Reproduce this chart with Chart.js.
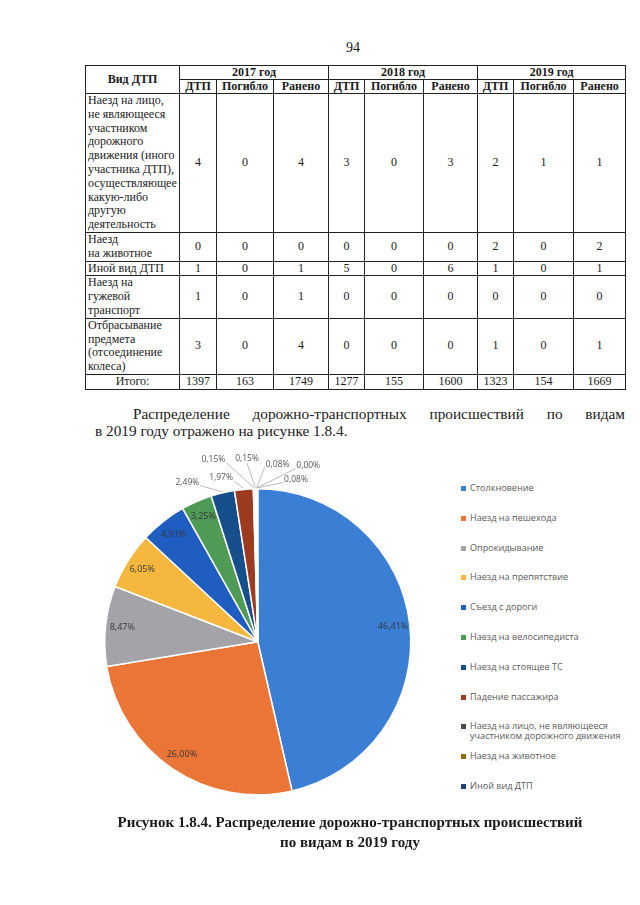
<!DOCTYPE html>
<html lang="ru">
<head>
  <meta charset="UTF-8" />
  <title>Распределение ДТП по видам в 2019 году</title>
  <script src="https://cdn.jsdelivr.net/npm/chart.js"></script>
  <style>
    html, body { margin: 0; padding: 0; }
    body { width: 640px; height: 905px; position: relative; background: #fff; overflow: hidden;
           font-family: "Liberation Serif", "Times New Roman", serif; color: #1a1a1a; }
    .pagenum { position: absolute; top: 40px; left: 0; width: 706px; text-align: center; font-size: 14px; }
    table { position: absolute; left: 85px; top: 65px; width: 540px; border-collapse: collapse;
            table-layout: fixed; font-size: 12px; line-height: 13.8px; }
    td, th { border: 1px solid #222; padding: 0 2px; text-align: center; vertical-align: middle; }
    th { font-size: 12px; line-height: 13px; }
    td.kind { text-align: left; white-space: nowrap; }
    .para { position: absolute; left: 95px; top: 405px; width: 530px; font-size: 15.3px; line-height: 17px;
            text-align: justify; text-align-last: left; text-indent: 38px; margin: 0; }
    #chartBox { position: absolute; left: 80px; top: 445px; }
    #legend { position: absolute; left: 461px; top: 483px; display: grid; grid-auto-rows: 29.8px;
              font-family: "Open Sans", sans-serif; font-size: 9.1px; line-height: 10px; color: #595959; }
    .item { display: flex; align-items: flex-start; }
    .item i { display: inline-block; width: 5px; height: 5px; margin: 3px 4px 0 0; flex: none; }
    .item span { width: 165px; }
    .caption { position: absolute; left: 85px; top: 812px; width: 530px; text-align: center; font-weight: bold;
               font-size: 15px; line-height: 20px; margin: 0; }
  </style>
</head>
<body>
  <div class="pagenum">94</div>

  <table>
    <colgroup>
      <col style="width:94px"><col style="width:37px"><col style="width:57px"><col style="width:55px">
      <col style="width:36px"><col style="width:59px"><col style="width:54px">
      <col style="width:36px"><col style="width:60px"><col style="width:52px">
    </colgroup>
    <tr><th rowspan="2">Вид ДТП</th><th colspan="3">2017 год</th><th colspan="3">2018 год</th><th colspan="3">2019 год</th></tr>
    <tr><th>ДТП</th><th>Погибло</th><th>Ранено</th><th>ДТП</th><th>Погибло</th><th>Ранено</th><th>ДТП</th><th>Погибло</th><th>Ранено</th></tr>
    <tr><td class="kind">Наезд на лицо,<br>не являющееся<br>участником<br>дорожного<br>движения (иного<br>участника ДТП),<br>осуществляющее<br>какую-либо<br>другую<br>деятельность</td>
      <td>4</td><td>0</td><td>4</td><td>3</td><td>0</td><td>3</td><td>2</td><td>1</td><td>1</td></tr>
    <tr><td class="kind">Наезд<br>на животное</td>
      <td>0</td><td>0</td><td>0</td><td>0</td><td>0</td><td>0</td><td>2</td><td>0</td><td>2</td></tr>
    <tr><td class="kind">Иной вид ДТП</td>
      <td>1</td><td>0</td><td>1</td><td>5</td><td>0</td><td>6</td><td>1</td><td>0</td><td>1</td></tr>
    <tr><td class="kind">Наезд на<br>гужевой<br>транспорт</td>
      <td>1</td><td>0</td><td>1</td><td>0</td><td>0</td><td>0</td><td>0</td><td>0</td><td>0</td></tr>
    <tr><td class="kind">Отбрасывание<br>предмета<br>(отсоединение<br>колеса)</td>
      <td>3</td><td>0</td><td>4</td><td>0</td><td>0</td><td>0</td><td>1</td><td>0</td><td>1</td></tr>
    <tr><td style="text-align:center">Итого:</td>
      <td>1397</td><td>163</td><td>1749</td><td>1277</td><td>155</td><td>1600</td><td>1323</td><td>154</td><td>1669</td></tr>
  </table>

  <p class="para">Распределение дорожно-транспортных происшествий по видам в&nbsp;2019&nbsp;году отражено на рисунке 1.8.4.</p>

  <div id="chartBox"><canvas id="pieChart" width="360" height="370"></canvas></div>
  <div id="legend"></div>

  <p class="caption">Рисунок 1.8.4. Распределение дорожно-транспортных происшествий<br>по видам в 2019 году</p>

  <script>
    // Доли видов ДТП в 2019 году, %
    const categories = [
      'Столкновение', 'Наезд на пешехода', 'Опрокидывание', 'Наезд на препятствие',
      'Съезд с дороги', 'Наезд на велосипедиста', 'Наезд на стоящее ТС', 'Падение пассажира',
      'Наезд на лицо, не являющееся участником дорожного движения', 'Наезд на животное',
      'Иной вид ДТП', 'Наезд на гужевой транспорт', 'Отбрасывание предмета (отсоединение колеса)'
    ];
    const shares2019 = [46.41, 26.00, 8.47, 6.05, 4.91, 3.25, 2.49, 1.97, 0.15, 0.15, 0.08, 0.00, 0.08];
    const sliceColors = [
      '#3b7fd4', '#ea7536', '#a4a4a8', '#f5b73e', '#1f5dc0', '#4f9a55', '#164f8c',
      '#9c3b20', '#4a4a4a', '#8f6a10', '#1f3f78', '#3e6a2c', '#7caedd'
    ];
    // Excel cut the legend after 11 entries
    const legendCount = 11;

    // where the small outside labels sit, in pie radii from the centre
    const outsideLabelPos = {
      6: [-0.46, -1.04], 7: [-0.24, -1.07], 8: [-0.29, -1.19], 9: [-0.07, -1.20],
      10: [0.13, -1.16], 11: [0.33, -1.15], 12: [0.25, -1.06]
    };

    const pct = v => v.toFixed(2).replace('.', ',') + '%';

    // data labels: inside for large slices, outside with leader lines for small ones
    const pieLabels = {
      id: 'pieLabels',
      afterDatasetsDraw(chart) {
        const ctx = chart.ctx;
        const meta = chart.getDatasetMeta(0);
        ctx.save();
        ctx.textAlign = 'center';
        ctx.textBaseline = 'middle';
        meta.data.forEach((arc, i) => {
          const { x, y, startAngle, endAngle, outerRadius } =
            arc.getProps(['x', 'y', 'startAngle', 'endAngle', 'outerRadius'], true);
          const mid = (startAngle + endAngle) / 2;
          const text = pct(shares2019[i]);
          const pos = outsideLabelPos[i];
          if (!pos) {
            const r = outerRadius * 0.89;
            ctx.font = '9px "Open Sans", sans-serif';
            ctx.fillStyle = '#383838';
            ctx.fillText(text, x + Math.cos(mid) * r, y + Math.sin(mid) * r);
            return;
          }
          ctx.font = '8.5px "Open Sans", sans-serif';
          const lx = x + pos[0] * outerRadius;
          const ly = y + pos[1] * outerRadius;
          const hw = ctx.measureText(text).width / 2;
          const ax = x + Math.cos(mid) * (outerRadius + 1);
          const ay = y + Math.sin(mid) * (outerRadius + 1);
          let ex = lx, ey = ly + 5;
          if (lx + hw < ax) { ex = lx + hw + 1; ey = ly + 3; }
          else if (lx - hw > ax) { ex = lx - hw - 1; ey = ly + 3; }
          ctx.strokeStyle = '#a8a8a8';
          ctx.lineWidth = 0.8;
          ctx.beginPath();
          ctx.moveTo(ax, ay);
          ctx.lineTo(ex, ey);
          ctx.stroke();
          ctx.fillStyle = '#555';
          ctx.fillText(text, lx, ly);
        });
        ctx.restore();
      }
    };

    const chart = new Chart(document.getElementById('pieChart'), {
      type: 'pie',
      data: {
        labels: categories,
        datasets: [{
          data: shares2019,
          backgroundColor: sliceColors,
          borderColor: '#ffffff',
          borderWidth: 1.5,
          hoverOffset: 0
        }]
      },
      options: {
        responsive: false,
        animation: false,
        layout: { padding: { left: 24, right: 28.5, top: 43, bottom: 19.5 } },
        plugins: { legend: { display: false }, tooltip: { enabled: false } }
      },
      plugins: [pieLabels]
    });

    // legend built from the chart's own label items
    const legendBox = document.getElementById('legend');
    Chart.overrides.pie.plugins.legend.labels.generateLabels(chart)
      .slice(0, legendCount)
      .forEach(item => {
        const row = document.createElement('div');
        row.className = 'item';
        row.innerHTML = '<i style="background:' + item.fillStyle + '"></i><span>' + item.text + '</span>';
        legendBox.appendChild(row);
      });
  </script>
</body>
</html>
